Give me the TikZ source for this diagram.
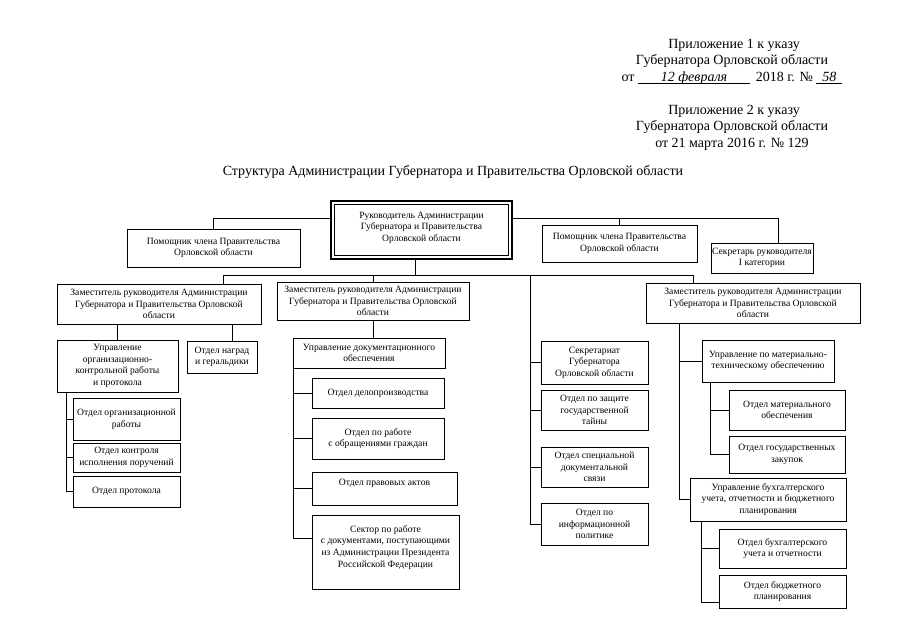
\documentclass[tikz,border=0pt]{standalone}
\usepackage{fontspec}
\setmainfont{Liberation Serif}
\newcommand\obox[7][]{\node[bx,#1,minimum width={(#5-#3)*1pt},minimum height={(#6-#4)*1pt}] (#2) at ({(#3+#5)/2},{(#4+#6)/2}) {#7};}
\begin{document}
\begin{tikzpicture}[x=1pt,y=-1pt,
  bx/.style={draw,line width=0.6pt,align=center,font=\fontsize{9.6}{11.6}\selectfont,inner sep=1pt,outer sep=0pt},
  ln/.style={line width=0.6pt},
  hd/.style={font=\fontsize{14}{16}\selectfont,inner sep=0pt}]
\useasboundingbox[fill=white] (0,0) rectangle (905,640);
% header
\node[hd] (h1) at (734,45) {Приложение 1 к указу};
\node[hd] (h2) at (732,61) {Губернатора Орловской области};
\node[hd] (h3) at (732,78) {от \underline{\makebox[112pt]{\smash{\itshape 12 февраля}}}\, 2018 г. № \underline{\makebox[26pt]{\smash{\itshape 58}}}};
\node[hd] (h4) at (734,111) {Приложение 2 к указу};
\node[hd] (h5) at (732,127) {Губернатора Орловской области};
\node[hd] (h6) at (732,144) {от 21 марта 2016 г. № 129};
\node[hd] (title) at (453,172) {Структура Администрации Губернатора и Правительства Орловской области};
% boxes
\obox[line width=1.3pt]{top}{331}{201}{512}{259}{Руководитель Администрации\\Губернатора и Правительства\\Орловской области\\[-5pt]\mbox{}}
\draw[line width=0.6pt] ([shift={(3.5,3.5)}]top.north west) rectangle ([shift={(-3.5,-3.5)}]top.south east);
\obox{pom1}{127}{229}{300}{267}{Помощник члена Правительства\\Орловской области}
\obox{pom2}{542}{225}{697}{262}{Помощник члена Правительства\\Орловской области}
\obox{sec}{721}{243}{803}{273}{Секретарь руководителя\\I категории}
\obox{z1}{57}{284}{261}{324}{Заместитель руководителя Администрации\\Губернатора и Правительства Орловской\\области}
\obox{z2}{277}{282}{469}{320}{Заместитель руководителя Администрации\\Губернатора и Правительства Орловской\\области}
\obox{z3}{646}{283}{860}{323}{Заместитель руководителя Администрации\\Губернатора и Правительства Орловской\\области}
% left column
\obox{upr1}{57}{340}{178}{392}{Управление\\организационно-\\контрольной работы\\и протокола}
\obox{nagr}{187}{341}{257}{373}{Отдел наград\\и геральдики}
\obox{org}{73}{398}{180}{440}{Отдел организационной\\работы}
\obox{kontr}{73}{443}{180}{472}{Отдел контроля\\исполнения поручений}
\obox{prot}{73}{476}{180}{507}{Отдел протокола}
% middle column
\obox{upd}{293}{338}{445}{368}{Управление документационного\\обеспечения}
\obox{delo}{312}{378}{444}{408}{Отдел делопроизводства}
\obox{obr}{312}{418}{444}{459}{Отдел по работе\\с обращениями граждан}
\obox{prav}{312}{472}{457}{505}{Отдел правовых актов\\\mbox{}}
\obox{sekt}{312}{515}{459}{589}{Сектор по работе\\с документами, поступающими\\из Администрации Президента\\Российской Федерации\\\mbox{}}
% column 4
\obox{secr}{541}{341}{648}{384}{Секретариат\\Губернатора\\Орловской области}
\obox{zasch}{541}{390}{648}{430}{Отдел по защите\\государственной\\тайны}
\obox{spec}{541}{447}{648}{487}{Отдел специальной\\документальной\\связи}
\obox{info}{541}{503}{648}{545}{Отдел по\\информационной\\политике}
% right column
\obox{umt}{702}{340}{834}{382}{Управление по материально-\\техническому обеспечению}
\obox{omat}{729}{390}{845}{430}{Отдел материального\\обеспечения}
\obox{ogz}{729}{436}{845}{473}{Отдел государственных\\закупок}
\obox{ubu}{690}{478}{846}{521}{Управление бухгалтерского\\учета, отчетности и бюджетного\\планирования}
\obox{obu}{719}{529}{846}{568}{Отдел бухгалтерского\\учета и отчетности}
\obox{obj}{719}{575}{846}{608}{Отдел бюджетного\\планирования}
% connectors top
\coordinate (yTop) at (0,218);
\coordinate (cS) at (778,218);
\draw[ln] (top.west |- yTop) -| (pom1.north);
\draw[ln] (top.east |- cS) -- (cS) -- (cS |- sec.north);
\draw[ln] (pom2.north) -- (pom2.north |- cS);
\coordinate (cT) at (415,275);
\coordinate (b2L) at (223,275);
\coordinate (b2R) at (693,275);
\draw[ln] (cT |- top.south) -- (cT);
\draw[ln] (b2L |- z1.north) -- (b2L) -- (b2R) -- (b2R |- z3.north);
\draw[ln] (z2.north) -- (z2.north |- b2L);
% column 4
\coordinate (c4) at (530,275);
\draw[ln] (c4) |- (info.west);
\draw[ln] (c4 |- secr.west) -- (secr.west);
\draw[ln] (c4 |- zasch.west) -- (zasch.west);
\draw[ln] (c4 |- spec.west) -- (spec.west);
% left
\coordinate (cN) at (232,0);
\draw[ln] (cN |- z1.south) -- (cN |- nagr.north);
\draw[ln] (upr1.north) -- (upr1.north |- z1.south);
\coordinate (s1) at (66,0);
\draw[ln] (s1 |- upr1.south) |- (prot.west);
\draw[ln] (s1 |- org.west) -- (org.west);
\draw[ln] (s1 |- kontr.west) -- (kontr.west);
% middle
\draw[ln] (z2.south) -- (z2.south |- upd.north);
\coordinate (sk) at (293,538);
\draw[ln] (upd.south west) -- (sk) -- (sk -| sekt.west);
\draw[ln] (sk |- delo.west) -- (delo.west);
\draw[ln] (sk |- obr.west) -- (obr.west);
\draw[ln] (sk |- prav.west) -- (prav.west);
% right
\coordinate (r1) at (679,0);
\draw[ln] (r1 |- z3.south) |- (ubu.west);
\draw[ln] (r1 |- umt.west) -- (umt.west);
\coordinate (r2) at (710,0);
\draw[ln] (r2 |- umt.south) |- (ogz.west);
\draw[ln] (r2 |- omat.west) -- (omat.west);
\coordinate (r3) at (701,602);
\draw[ln] (r3 |- ubu.south) -- (r3) -- (r3 -| obj.west);
\draw[ln] (r3 |- obu.west) -- (obu.west);
\end{tikzpicture}
\end{document}
